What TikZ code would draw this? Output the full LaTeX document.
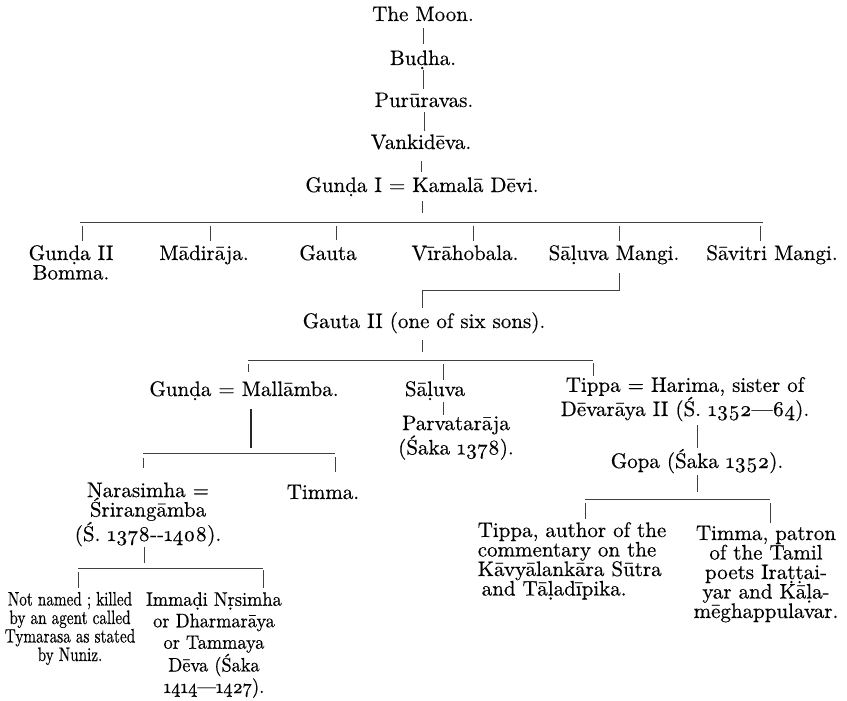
\documentclass[tikz,border=0pt]{standalone}
\usepackage{fontspec}
\setmainfont{lmroman10-regular}[Extension=.otf, Numbers=OldStyle, FakeBold=0.4]
\newfontfamily\nnfont{lmroman10-regular}[Extension=.otf, Numbers=OldStyle, FakeBold=0.4, FakeStretch=0.78]
\newfontfamily\immfont{lmroman10-regular}[Extension=.otf, Numbers=OldStyle, FakeBold=0.4, FakeStretch=0.94]
\newcommand\myfs{\fontsize{21}{19.5}\selectfont}
\begin{document}
\begin{tikzpicture}[x=1pt,y=-1pt,
  nm/.style={inner sep=0pt, outer sep=0pt, anchor=base, font=\myfs, align=center},
  ln/.style={line width=0.8pt, draw=black!75},
  thk/.style={line width=1.6pt, draw=black!85}]
\fill[white] (0,0) rectangle (847,701);
\useasboundingbox (0,0) rectangle (847,701);
% top chain
\node[nm] (moon) at (423,21) {The Moon.};
\node[nm] (budha) at (423,65) {Buḍha.};
\node[nm] (puru) at (424,107) {Purūravas.};
\node[nm] (vank) at (421,149) {Vankidēva.};
\node[nm] (gk) at (422,192) {Gunḍa I = Kamalā Dēvi.};
% first generation (base anchor = last line)
\node[nm] (g2) at (71,279.5) {Gunḍa II\\Bomma.};
\node[nm] (mad) at (204,260) {Mādirāja.};
\node[nm] (gau) at (328,260) {Gauta};
\node[nm] (vir) at (465,260) {Vīrāhobala.};
\node[nm] (sm) at (614,260) {Sāḷuva Mangi.};
\node[nm] (sv) at (772,260) {Sāvitri Mangi.};
\node[nm] (gau2) at (424,328) {Gauta II (one of six sons).};
% next
\node[nm] (gm) at (244,396) {Gunḍa = Mallāmba.};
\node[nm] (sal) at (435,396) {Sāḷuva};
\node[nm] (tip) at (685,416) {Tippa = Harima, sister of\\Dēvarāya II (Ś. 1352—64).};
\node[nm] (parv) at (456,454.5) {Parvatarāja\\(Śaka 1378).};
\node[nm] (gopa) at (697,468) {Gopa (Śaka 1352).};
\node[nm] (nar) at (148,541) {Narasimha =\\Śrirangāmba\\(Ś. 1378-{}-1408).};
\node[nm] (tim) at (323,499) {Timma.};
\node[nm, align=left] (tip2) at (572,595.5) {Tippa, author of the\\commentary on the\\Kāvyālankāra Sūtra\\\hspace*{4pt}and Tāḷadīpika.};
\node[nm] (tim2) at (766,618) {Timma, patron\\of the Tamil\\poets Iraṭṭai-\\yar and Kāḷa-\\mēghappulavar.};
\node[nm, font={\nnfont\fontsize{19.5}{18.5}\selectfont}] (nn) at (70,661) {Not named ; killed\\by an agent called\\Tymarasa as stated\\by Nuniz.};
\node[nm, font={\immfont\fontsize{19.5}{21.5}\selectfont}] (imm) at (214,693) {Immaḍi Nṛsimha\\or Dharmarāya\\or Tammaya\\Dēva (Śaka\\1414—1427).};
% junctions
\coordinate (b1) at (422,222); \coordinate (b1l) at (80,222); \coordinate (b1r) at (763,222);
\coordinate (d1) at (82,222); \coordinate (d2) at (210,222); \coordinate (d3) at (336,222);
\coordinate (d4) at (473,222); \coordinate (d5) at (619,222); \coordinate (d6) at (760,222);
\coordinate (j2) at (619,290); \coordinate (j3) at (422,290);
\coordinate (b2) at (422,360); \coordinate (b2l) at (248,360); \coordinate (b2r) at (593,360); \coordinate (d7) at (443,360);
\coordinate (b3) at (251,453); \coordinate (b3l) at (143,453); \coordinate (b3r) at (335,453);
\coordinate (b4) at (144,568); \coordinate (b4l) at (78,568); \coordinate (b4r) at (263,568);
\coordinate (b5) at (697,499); \coordinate (b5l) at (585,499); \coordinate (b5r) at (770,499);
% top chain connectors
\draw[ln, shorten <=7pt, shorten >=6pt] (moon.south) -- (moon.south |- budha.north);
\draw[ln, shorten <=1pt, shorten >=4pt] (budha.south) -- (budha.south |- puru.north);
\draw[ln, shorten <=5pt, shorten >=3pt] (puru.south) -- (puru.south |- vank.north);
\draw[ln, shorten <=12pt, shorten >=5pt] (vank.south) -- (vank.south |- gk.north);
\draw[ln, shorten <=5pt, shorten >=9pt] (gk.south -| b1) -- (b1);
\draw[ln] (b1l) -- (b1r);
\draw[ln, shorten <=4pt, shorten >=4pt] (d1) -- (d1 |- g2.north);
\draw[ln, shorten <=4pt, shorten >=4pt] (d2) -- (d2 |- mad.north);
\draw[ln, shorten <=4pt, shorten >=5pt] (d3) -- (d3 |- gau.north);
\draw[ln, shorten <=4pt, shorten >=4pt] (d4) -- (d4 |- vir.north);
\draw[ln, shorten <=4pt, shorten >=4pt] (d5) -- (d5 |- sm.north);
\draw[ln, shorten <=4pt, shorten >=4pt] (d6) -- (d6 |- sv.north);
\draw[ln, shorten <=9pt, shorten >=4pt] (sm.south -| j2) -- (j2) -- (j3) -- (j3 |- gau2.north);
% Gauta II
\draw[ln, shorten <=7pt, shorten >=8pt] (gau2.south -| b2) -- (b2);
\draw[ln] (b2l) -- (b2r);
\draw[ln, shorten <=4pt, shorten >=9pt] (b2l) -- (b2l |- gm.north);
\draw[ln, shorten <=4pt, shorten >=1pt] (d7) -- (d7 |- sal.north);
\draw[ln, shorten <=3pt, shorten >=1pt] (b2r) -- (b2r |- tip.north);
\draw[ln, shorten <=2pt, shorten >=1pt] (sal.south -| d7) -- (d7 |- parv.north);
% Gunda = Mallamba
\draw[thk, shorten <=9pt, shorten >=5pt] (gm.south -| b3) -- (b3);
\draw[ln] (b3l) -- (b3r);
\draw[ln, shorten <=5pt, shorten >=15pt] (b3l) -- (b3l |- nar.north);
\draw[ln, shorten <=4pt, shorten >=13pt] (b3r) -- (b3r |- tim.north);
% Narasimha
\draw[ln, shorten <=1pt, shorten >=5pt] (nar.south -| b4) -- (b4);
\draw[ln] (b4l) -- (b4r);
\draw[ln, shorten <=4pt, shorten >=4pt] (b4l) -- (b4l |- nn.north);
\draw[ln, shorten <=2pt, shorten >=4pt] (b4r) -- (b4r |- imm.north);
% Tippa / Gopa
\draw[ln, shorten <=4pt, shorten >=1pt] (tip.south -| gopa.north) -- (gopa.north);
\draw[ln, shorten <=2pt, shorten >=7pt] (gopa.south) -- (b5);
\draw[ln] (b5l) -- (b5r);
\draw[ln, shorten <=4pt, shorten >=3pt] (b5l) -- (b5l |- tip2.north);
\draw[ln, shorten <=4pt, shorten >=3pt] (b5r) -- (b5r |- tim2.north);
\end{tikzpicture}
\end{document}
